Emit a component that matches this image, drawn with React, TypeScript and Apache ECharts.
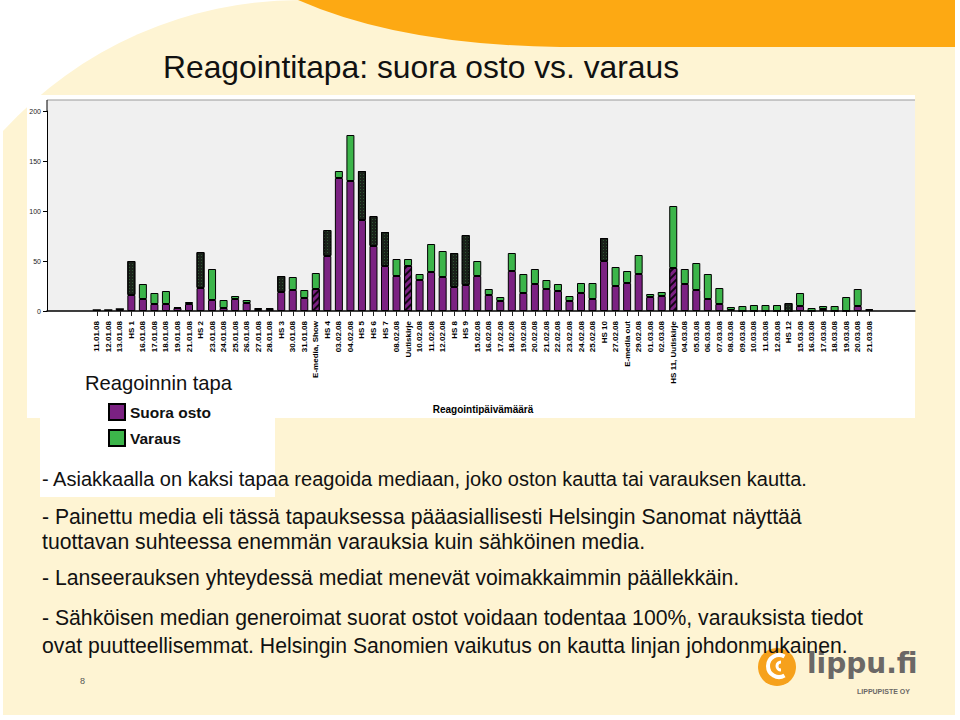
import React, { useEffect, useRef } from 'react';
import * as echarts from 'echarts';

const categories = [
  '11.01.08', '12.01.08', '13.01.08', 'HS 1', '16.01.08', '17.01.08', '18.01.08', '19.01.08', '21.01.08', 'HS 2',
  '23.01.08', '24.01.08', '25.01.08', '26.01.08', '27.01.08', '28.01.08', 'HS 3', '30.01.08', '31.01.08', 'E-media, Show',
  'HS 4', '03.02.08', '04.02.08', 'HS 5', 'HS 6', 'HS 7', '08.02.08', 'Uutiskirje', '10.02.08', '11.02.08',
  '12.02.08', 'HS 8', 'HS 9', '15.02.08', '16.02.08', '17.02.08', '18.02.08', '19.02.08', '20.02.08', '21.02.08',
  '22.02.08', '23.02.08', '24.02.08', '25.02.08', 'HS 10', '27.02.08', 'E-media out', '29.02.08', '01.03.08', '02.03.08',
  'HS 11, Uutiskirje', '04.03.08', '05.03.08', '06.03.08', '07.03.08', '08.03.08', '09.03.08', '10.03.08', '11.03.08', '12.03.08',
  'HS 12', '15.03.08', '16.03.08', '17.03.08', '18.03.08', '19.03.08', '20.03.08', '21.03.08',
];

const suoraOsto = [
  1, 1, 2, 16, 12, 7, 7, 3, 7, 23,
  11, 3, 12, 8, 2, 2, 19, 21, 13, 22,
  55, 133, 130, 91, 65, 45, 35, 45, 31, 39,
  34, 24, 26, 35, 16, 10, 40, 18, 27, 22,
  20, 10, 18, 12, 50, 25, 28, 37, 14, 15,
  43, 27, 21, 12, 7, 1, 0, 0, 0, 0,
  0, 5, 0, 2, 0, 0, 5, 1,
];

const varaus = [
  0, 0, 0, 34, 15, 11, 13, 1, 2, 36,
  31, 8, 3, 3, 1, 1, 16, 13, 8, 16,
  26, 7, 46, 49, 30, 34, 17, 7, 6, 28,
  26, 34, 50, 15, 6, 4, 18, 19, 15, 9,
  7, 5, 10, 16, 23, 19, 12, 19, 3, 4,
  62, 15, 27, 25, 16, 3, 5, 6, 6, 6,
  8, 13, 3, 3, 5, 14, 17, 1,
];

const yTicks = [0, 50, 100, 150, 200];

const seriesNames = ['Suora osto', 'Varaus'];
const legendTitle = 'Reagoinnin tapa';
const xAxisTitle = 'Reagointipäivämäärä';
const slideTitle = 'Reagointitapa: suora osto vs. varaus';

const bodyLines = [
  '- Asiakkaalla on kaksi tapaa reagoida mediaan, joko oston kautta tai varauksen kautta.',
  '- Painettu media eli tässä tapauksessa pääasiallisesti Helsingin Sanomat näyttää',
  'tuottavan suhteessa enemmän varauksia kuin sähköinen media.',
  '- Lanseerauksen yhteydessä mediat menevät voimakkaimmin päällekkäin.',
  '- Sähköisen median generoimat suorat ostot voidaan todentaa 100%, varauksista tiedot',
  'ovat puutteellisemmat. Helsingin Sanomien vaikutus on kautta linjan johdonmukainen.',
];
const bodyLineY = [479, 516, 541, 577, 617, 645];

const pageNumber = '8';

echarts.graphic.registerShape(
  'creamBg',
  echarts.graphic.extendPath('M3,715 L3,131 A403,403 0 0 1 300,0 L955,0 L955,715 Z', {})
);
echarts.graphic.registerShape(
  'orangeBand',
  echarts.graphic.extendPath('M298,0 L955,0 L955,47 L560,47 Q400,45 298,0 Z', {})
);

const FONT = '"Liberation Sans", Arial, sans-serif';
const PURPLE = '#7b2182';
const GREEN = '#3cb54a';

const kindOf = (name: string) =>
  name.includes('Uutiskirje') || name.includes('E-media, Show')
    ? 'hatched'
    : name.startsWith('HS')
    ? 'hs'
    : 'plain';

export default function App() {
  const ref = useRef<HTMLDivElement>(null);

  useEffect(() => {
    if (!ref.current) return;
    const chart = echarts.init(ref.current, null, { renderer: 'svg' });

    const hatchDecal = {
      symbol: 'rect',
      symbolSize: 1,
      dashArrayX: [1, 0],
      dashArrayY: [1.2, 2.6],
      rotation: -Math.PI / 4,
      color: 'rgba(0,0,0,0.85)',
    };
    const dotDecal = {
      symbol: 'rect',
      symbolSize: 1,
      dashArrayX: [1, 2],
      dashArrayY: [1, 2],
      color: 'rgba(70,150,80,0.45)',
    };

    const suoraData = suoraOsto.map((v, i) =>
      kindOf(categories[i]) === 'hatched'
        ? { value: v, itemStyle: { decal: hatchDecal } }
        : { value: v }
    );
    const varausData = varaus.map((v, i) =>
      kindOf(categories[i]) === 'hs'
        ? { value: v, itemStyle: { color: '#1a211a', decal: dotDecal } }
        : { value: v }
    );

    const graphics: any[] = [
      { type: 'creamBg', x: 0, y: 0, z: -100, silent: true, style: { fill: '#fef4d3' } },
      { type: 'orangeBand', x: 0, y: 0, z: -99, silent: true, style: { fill: '#fda913' } },
      { type: 'rect', z: -98, silent: true, shape: { x: 27, y: 95, width: 888, height: 323 }, style: { fill: '#ffffff' } },
      { type: 'rect', z: -98, silent: true, shape: { x: 40, y: 418, width: 235, height: 79 }, style: { fill: '#ffffff' } },
      { type: 'rect', z: -97, silent: true, shape: { x: 47, y: 100, width: 868, height: 211 }, style: { fill: '#f0f0f0' } },
      { type: 'line', z: -96, silent: true, shape: { x1: 47, y1: 100, x2: 915, y2: 100 }, style: { stroke: '#9a9a9a', lineWidth: 1 } },
      { type: 'line', z: 5, silent: true, shape: { x1: 47, y1: 100, x2: 47, y2: 112 }, style: { stroke: '#000', lineWidth: 1 } },
      {
        type: 'text', z: 10, x: 163, y: 67,
        style: { text: slideTitle, fontSize: 31.8, fontFamily: FONT, fill: '#111', verticalAlign: 'middle' },
      },
      {
        type: 'text', z: 10, x: 85, y: 383,
        style: { text: legendTitle, fontSize: 20.2, fontFamily: FONT, fill: '#111', verticalAlign: 'middle' },
      },
      ...bodyLines.map((t, i) => ({
        type: 'text', z: 20, x: 42, y: bodyLineY[i],
        style: { text: t, fontSize: i === 0 ? 20 : 21.2, fontFamily: FONT, fill: '#111', verticalAlign: 'middle' },
      })),
      {
        type: 'text', z: 10, x: 80, y: 681,
        style: { text: pageNumber, fontSize: 9, fontFamily: FONT, fill: '#555', verticalAlign: 'middle' },
      },
      // logo
      { type: 'circle', z: 10, shape: { cx: 777, cy: 667, r: 19 }, style: { fill: '#f6a11c' } },
      {
        type: 'arc', z: 11,
        shape: { cx: 779, cy: 666, r: 11, startAngle: Math.PI / 3, endAngle: (5 * Math.PI) / 3, clockwise: true },
        style: { stroke: '#fff', lineWidth: 4, fill: 'none' },
      },
      {
        type: 'arc', z: 11,
        shape: { cx: 781, cy: 666, r: 4, startAngle: Math.PI / 2, endAngle: (3 * Math.PI) / 2, clockwise: true },
        style: { stroke: '#fff', lineWidth: 3, fill: 'none' },
      },
      {
        type: 'text', z: 11, x: 807, y: 663,
        style: { text: 'lippu.fi', fontSize: 28, fontWeight: 'bold', fontFamily: '"DejaVu Sans", sans-serif', fill: '#6b6866', verticalAlign: 'middle' },
      },
      {
        type: 'text', z: 11, x: 857, y: 691,
        style: { text: 'LIPPUPISTE OY', fontSize: 7, fontWeight: 'bold', fontFamily: FONT, fill: '#6b6866', verticalAlign: 'middle' },
      },
    ];

    chart.setOption({
      animation: false,
      backgroundColor: '#ffffff',
      textStyle: { fontFamily: FONT },
      grid: [
        { left: 47, right: 45, top: 111, bottom: 409 },
        { left: 91, right: 85, top: 111, bottom: 409 },
      ],
      legend: {
        data: seriesNames,
        orient: 'vertical',
        left: 103,
        top: 398,
        itemWidth: 16,
        itemHeight: 16,
        itemGap: 8,
        icon: 'rect',
        textStyle: { fontSize: 15.5, fontWeight: 'bold', fontFamily: FONT, color: '#111' },
      },
      xAxis: [
        {
          gridIndex: 0, type: 'value', min: 0, max: 1,
          axisLine: { show: true, lineStyle: { color: '#000', width: 1.5 } },
          axisTick: { show: false }, axisLabel: { show: false }, splitLine: { show: false },
        },
        {
          gridIndex: 1, type: 'category', data: categories,
          axisLine: { show: false },
          axisTick: { show: true, alignWithLabel: true, interval: 0, length: 5, lineStyle: { color: '#222' } },
          axisLabel: { interval: 0, rotate: 90, margin: 10, fontSize: 8, fontWeight: 'bold', color: '#000', fontFamily: FONT },
          name: xAxisTitle,
          nameLocation: 'middle',
          nameGap: 93,
          nameTextStyle: { fontSize: 10, fontWeight: 'bold', color: '#000', fontFamily: FONT },
        },
      ],
      yAxis: [
        {
          gridIndex: 0, type: 'value', min: yTicks[0], max: yTicks[yTicks.length - 1], interval: 50,
          axisLine: { show: true, lineStyle: { color: '#000', width: 1 } },
          axisTick: { show: true, length: 4, lineStyle: { color: '#000' } },
          axisLabel: { fontSize: 7, color: '#222', margin: 6 },
          splitLine: { show: false },
        },
        {
          gridIndex: 1, type: 'value', min: yTicks[0], max: yTicks[yTicks.length - 1], show: false,
          splitLine: { show: false },
        },
      ],
      series: [
        {
          name: seriesNames[0], type: 'bar', stack: 'total', xAxisIndex: 1, yAxisIndex: 1,
          barWidth: 8,
          itemStyle: { color: PURPLE, borderColor: '#000', borderWidth: 1 },
          data: suoraData,
        },
        {
          name: seriesNames[1], type: 'bar', stack: 'total', xAxisIndex: 1, yAxisIndex: 1,
          barWidth: 8,
          itemStyle: { color: GREEN, borderColor: '#000', borderWidth: 1 },
          data: varausData,
        },
      ],
      graphic: graphics,
    });

    return () => chart.dispose();
  }, []);

  return (
    <div
      ref={ref}
      style={{ position: 'absolute', left: 0, top: 0, width: 960, height: 720 }}
    />
  );
}
